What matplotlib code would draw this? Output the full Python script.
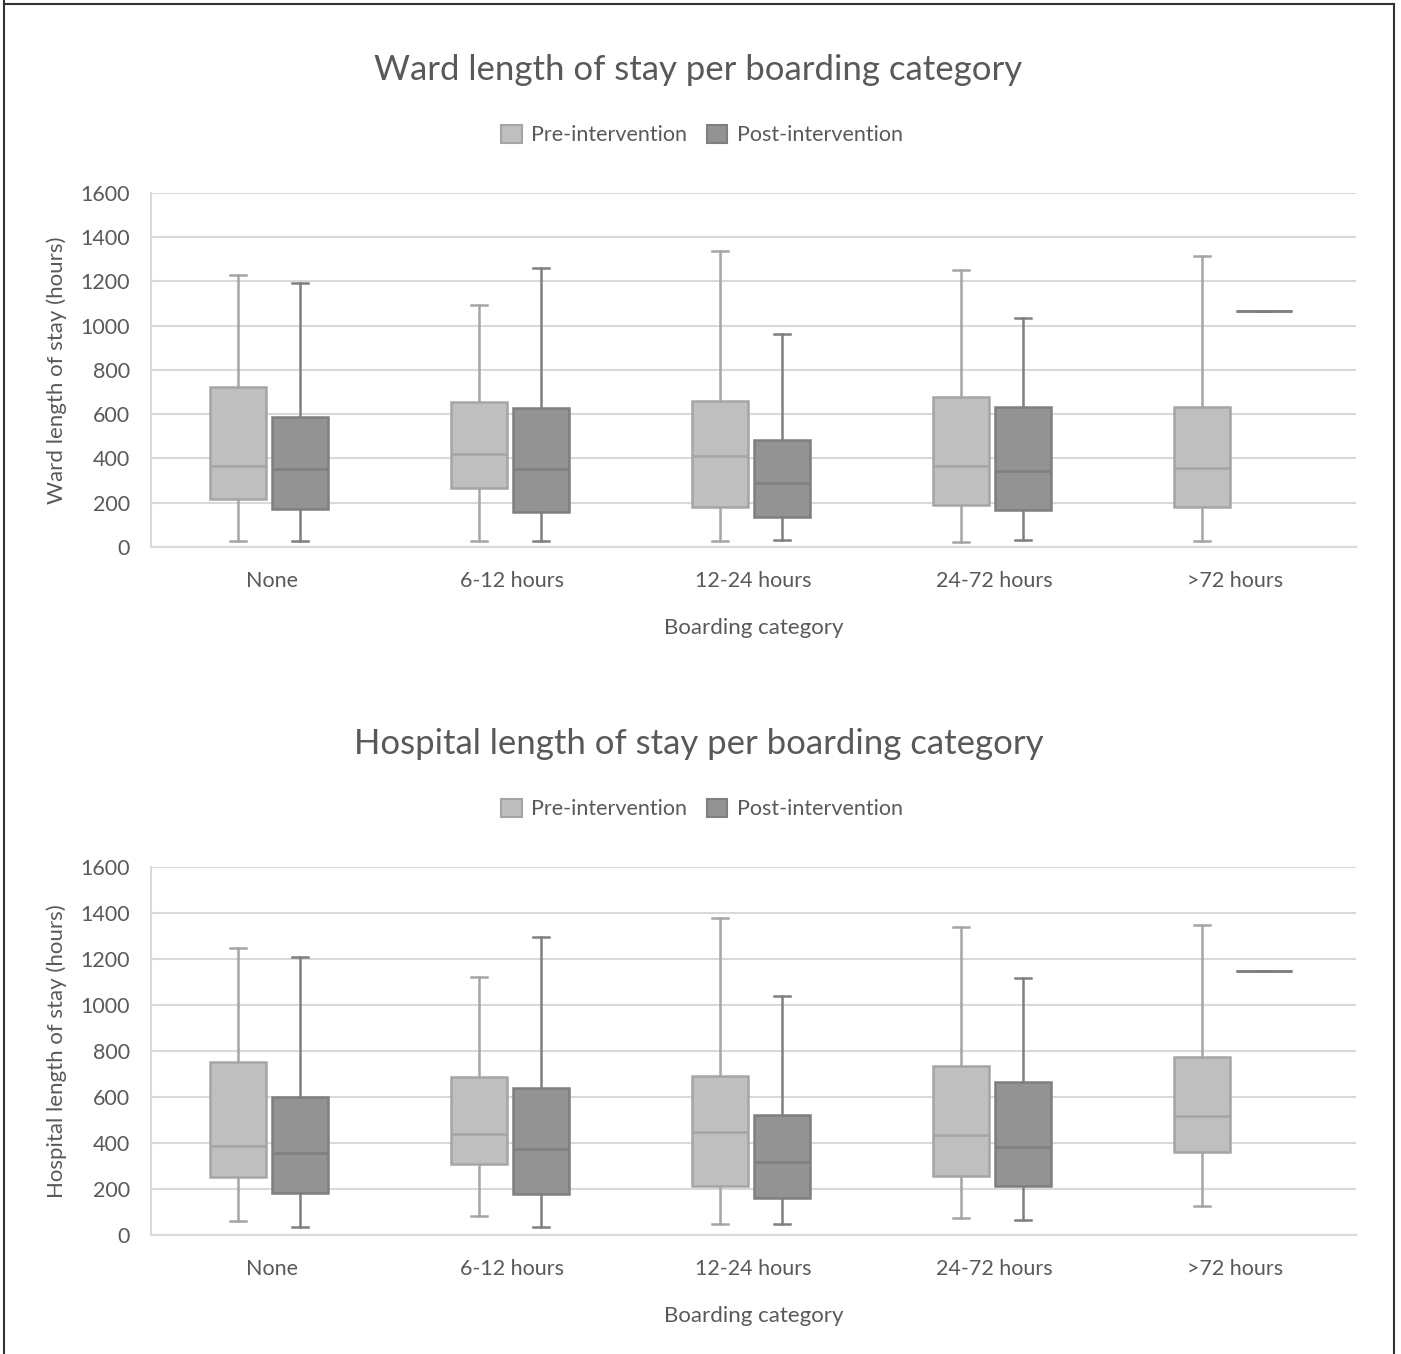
import matplotlib
matplotlib.use("Agg")
import matplotlib.pyplot as plt
import matplotlib.patches as mpatches
from matplotlib.lines import Line2D

plt.rcParams["font.family"] = ["Lato", "DejaVu Sans"]

TXT = "#595959"
GRID = "#d9d9d9"
PRE_FC, PRE_EC = "#bfbfbf", "#a5a5a5"
POST_FC, POST_EC = "#939393", "#7f7f7f"

CATEGORIES = ["None", "6-12 hours", "12-24 hours", "24-72 hours", ">72 hours"]
SERIES = ["Pre-intervention", "Post-intervention"]

# five-number summaries: whisker low, q1, median, q3, whisker high
WARD_PRE_LO = [27, 27, 27, 23, 27]
WARD_PRE_Q1 = [217, 265, 181, 188, 182]
WARD_PRE_MED = [368, 420, 411, 364, 358]
WARD_PRE_Q3 = [725, 654, 659, 678, 634]
WARD_PRE_HI = [1231, 1092, 1340, 1250, 1315]

WARD_POST_LO = [27, 27, 30, 30, 1068]
WARD_POST_Q1 = [172, 157, 136, 169, 1068]
WARD_POST_MED = [351, 351, 289, 343, 1068]
WARD_POST_Q3 = [586, 627, 482, 632, 1068]
WARD_POST_HI = [1192, 1262, 964, 1033, 1068]

HOSP_PRE_LO = [61, 83, 46, 75, 128]
HOSP_PRE_Q1 = [254, 307, 214, 258, 362]
HOSP_PRE_MED = [386, 440, 448, 435, 518]
HOSP_PRE_Q3 = [751, 688, 690, 734, 772]
HOSP_PRE_HI = [1247, 1120, 1378, 1337, 1346]

HOSP_POST_LO = [36, 33, 46, 67, 1150]
HOSP_POST_Q1 = [183, 178, 161, 214, 1150]
HOSP_POST_MED = [358, 374, 316, 384, 1150]
HOSP_POST_Q3 = [598, 641, 522, 664, 1150]
HOSP_POST_HI = [1207, 1297, 1041, 1117, 1150]

Y_TICKS = [0, 200, 400, 600, 800, 1000, 1200, 1400, 1600]


def stats(lo, q1, med, q3, hi):
    return [dict(whislo=a, q1=b, med=c, q3=d, whishi=e, fliers=[])
            for a, b, c, d, e in zip(lo, q1, med, q3, hi)]


def draw_panel(ax, pre, post, ylabel):
    n = len(CATEGORIES)
    for st, off, fc, ec in [(pre, -0.14, PRE_FC, PRE_EC),
                            (post, 0.118, POST_FC, POST_EC)]:
        ax.bxp(st, positions=[i + off for i in range(n)], widths=0.232,
               capwidths=0.066, showfliers=False, patch_artist=True,
               boxprops=dict(facecolor=fc, edgecolor=ec, linewidth=1.8),
               medianprops=dict(color=ec, linewidth=1.8),
               whiskerprops=dict(color=ec, linewidth=1.8),
               capprops=dict(color=ec, linewidth=1.8))
    ax.set_xlim(-0.5, n - 0.5)
    ax.set_ylim(0, 1600)
    ax.set_yticks(Y_TICKS)
    ax.set_xticks(range(n))
    ax.set_xticklabels(CATEGORIES)
    ax.yaxis.grid(True, color=GRID, linewidth=1.5)
    ax.set_axisbelow(True)
    for s in ["top", "right"]:
        ax.spines[s].set_visible(False)
    for s in ["left", "bottom"]:
        ax.spines[s].set_color(GRID)
        ax.spines[s].set_linewidth(1.5)
    ax.tick_params(length=0, labelsize=15.5, labelcolor=TXT)
    ax.tick_params(axis="y", pad=15)
    ax.tick_params(axis="x", pad=17)
    ax.set_ylabel(ylabel, fontsize=16, color=TXT, labelpad=10)
    ax.set_xlabel("Boarding category", fontsize=16, color=TXT, labelpad=20)


fig = plt.figure(figsize=(14.01, 13.54), dpi=100)
ax1 = fig.add_axes([151 / 1401, 1 - 547 / 1354, 1205 / 1401, 354 / 1354])
ax2 = fig.add_axes([151 / 1401, 1 - 1235 / 1354, 1205 / 1401, 368 / 1354])

draw_panel(ax1,
           stats(WARD_PRE_LO, WARD_PRE_Q1, WARD_PRE_MED, WARD_PRE_Q3, WARD_PRE_HI),
           stats(WARD_POST_LO, WARD_POST_Q1, WARD_POST_MED, WARD_POST_Q3, WARD_POST_HI),
           "Ward length of stay (hours)")
draw_panel(ax2,
           stats(HOSP_PRE_LO, HOSP_PRE_Q1, HOSP_PRE_MED, HOSP_PRE_Q3, HOSP_PRE_HI),
           stats(HOSP_POST_LO, HOSP_POST_Q1, HOSP_POST_MED, HOSP_POST_Q3, HOSP_POST_HI),
           "Hospital length of stay (hours)")

handles = [mpatches.Patch(facecolor=PRE_FC, edgecolor=PRE_EC, linewidth=1.5),
           mpatches.Patch(facecolor=POST_FC, edgecolor=POST_EC, linewidth=1.5)]

for title, ty, ly in [("Ward length of stay per boarding category", 70, 135),
                      ("Hospital length of stay per boarding category", 744, 809)]:
    fig.text(0.4985, 1 - ty / 1354, title, ha="center", va="center",
             fontsize=25, color=TXT)
    fig.legend(handles, SERIES, loc="center", bbox_to_anchor=(0.501, 1 - ly / 1354),
               ncol=2, frameon=False, fontsize=15.5, handlelength=0.95,
               handleheight=0.95, handletextpad=0.45, columnspacing=0.9,
               labelcolor=TXT)

# outer frame (left, top, right)
for xs, ys in [([4, 4], [0, 1354]), ([4, 1394], [4, 4]), ([1394, 1394], [4, 1354])]:
    fig.add_artist(Line2D([x / 1401 for x in xs], [1 - y / 1354 for y in ys],
                          color="#333333", linewidth=1.5))

fig.savefig("out.png", dpi=100, facecolor="white")
